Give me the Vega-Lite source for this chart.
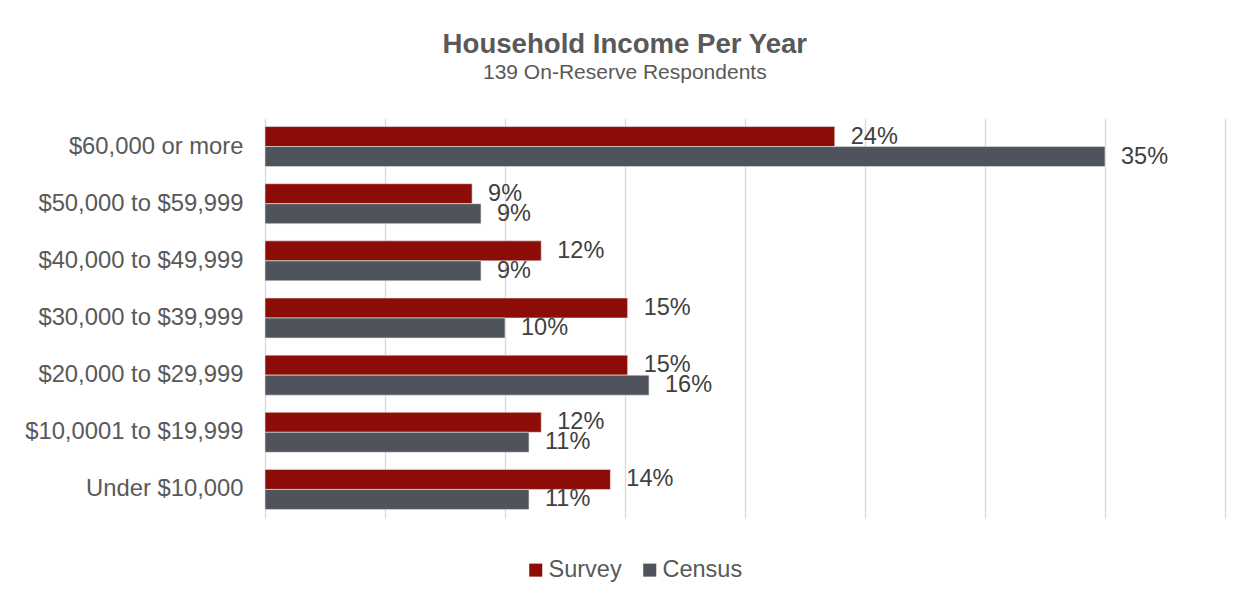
{
  "$schema": "https://vega.github.io/schema/vega-lite/v6.json",
  "width": 960,
  "height": 400,
  "autosize": {"type": "none"},
  "padding": {"left": 265, "top": 118, "right": 27, "bottom": 82},
  "background": "white",
  "title": {
    "text": "Household Income Per Year",
    "subtitle": "139 On-Reserve Respondents",
    "anchor": "middle",
    "frame": "bounds",
    "font": "Liberation Sans",
    "fontSize": 27.6,
    "fontWeight": "bold",
    "color": "#595959",
    "subtitleFont": "Liberation Sans",
    "subtitleFontSize": 21,
    "subtitleColor": "#595959",
    "subtitlePadding": 3,
    "offset": 35
  },
  "data": {
    "values": [
      {"income": "$60,000 or more", "series": "Survey", "value": 0.2374},
      {"income": "$60,000 or more", "series": "Census", "value": 0.35},
      {"income": "$50,000 to $59,999", "series": "Survey", "value": 0.0863},
      {"income": "$50,000 to $59,999", "series": "Census", "value": 0.09},
      {"income": "$40,000 to $49,999", "series": "Survey", "value": 0.1151},
      {"income": "$40,000 to $49,999", "series": "Census", "value": 0.09},
      {"income": "$30,000 to $39,999", "series": "Survey", "value": 0.1511},
      {"income": "$30,000 to $39,999", "series": "Census", "value": 0.10},
      {"income": "$20,000 to $29,999", "series": "Survey", "value": 0.1511},
      {"income": "$20,000 to $29,999", "series": "Census", "value": 0.16},
      {"income": "$10,0001 to $19,999", "series": "Survey", "value": 0.1151},
      {"income": "$10,0001 to $19,999", "series": "Census", "value": 0.11},
      {"income": "Under $10,000", "series": "Survey", "value": 0.1439},
      {"income": "Under $10,000", "series": "Census", "value": 0.11}
    ]
  },
  "encoding": {
    "y": {
      "field": "income",
      "type": "nominal",
      "sort": ["$60,000 or more", "$50,000 to $59,999", "$40,000 to $49,999", "$30,000 to $39,999", "$20,000 to $29,999", "$10,0001 to $19,999", "Under $10,000"],
      "scale": {"paddingInner": 0.3, "paddingOuter": 0.15},
      "axis": {
        "title": null,
        "domain": false,
        "ticks": false,
        "labelPadding": 22,
        "labelLimit": 400,
        "labelFont": "Liberation Sans",
        "labelFontSize": 23.8,
        "labelColor": "#595959"
      }
    },
    "x": {
      "field": "value",
      "type": "quantitative",
      "scale": {"domain": [0, 0.4], "nice": false},
      "axis": {
        "title": null,
        "values": [0, 0.05, 0.1, 0.15, 0.2, 0.25, 0.3, 0.35, 0.4],
        "labels": false,
        "ticks": false,
        "domain": false,
        "grid": true,
        "gridColor": "#D9D9D9",
        "gridWidth": 1.3
      }
    },
    "yOffset": {"field": "series", "sort": ["Survey", "Census"]}
  },
  "layer": [
    {
      "mark": {"type": "bar", "stroke": "#E8E8E8", "strokeWidth": 0.6},
      "encoding": {
        "color": {
          "field": "series",
          "type": "nominal",
          "sort": ["Survey", "Census"],
          "scale": {"domain": ["Survey", "Census"], "range": ["#8C0D07", "#4F535B"]},
          "legend": {
            "title": null,
            "orient": "none",
            "legendX": 259,
            "legendY": 440,
            "direction": "horizontal",
            "symbolType": "square",
            "symbolSize": 170,
            "symbolStrokeWidth": 0,
            "labelFont": "Liberation Sans",
            "labelFontSize": 23.5,
            "labelColor": "#595959",
            "labelOffset": 1,
            "columnPadding": 16
          }
        }
      }
    },
    {
      "mark": {
        "type": "text",
        "align": "left",
        "baseline": "middle",
        "dx": 16,
        "font": "Liberation Sans",
        "fontSize": 23.5,
        "color": "#404040"
      },
      "encoding": {
        "text": {"field": "value", "type": "quantitative", "format": ".0%"}
      }
    }
  ],
  "config": {
    "view": {"stroke": null}
  }
}
